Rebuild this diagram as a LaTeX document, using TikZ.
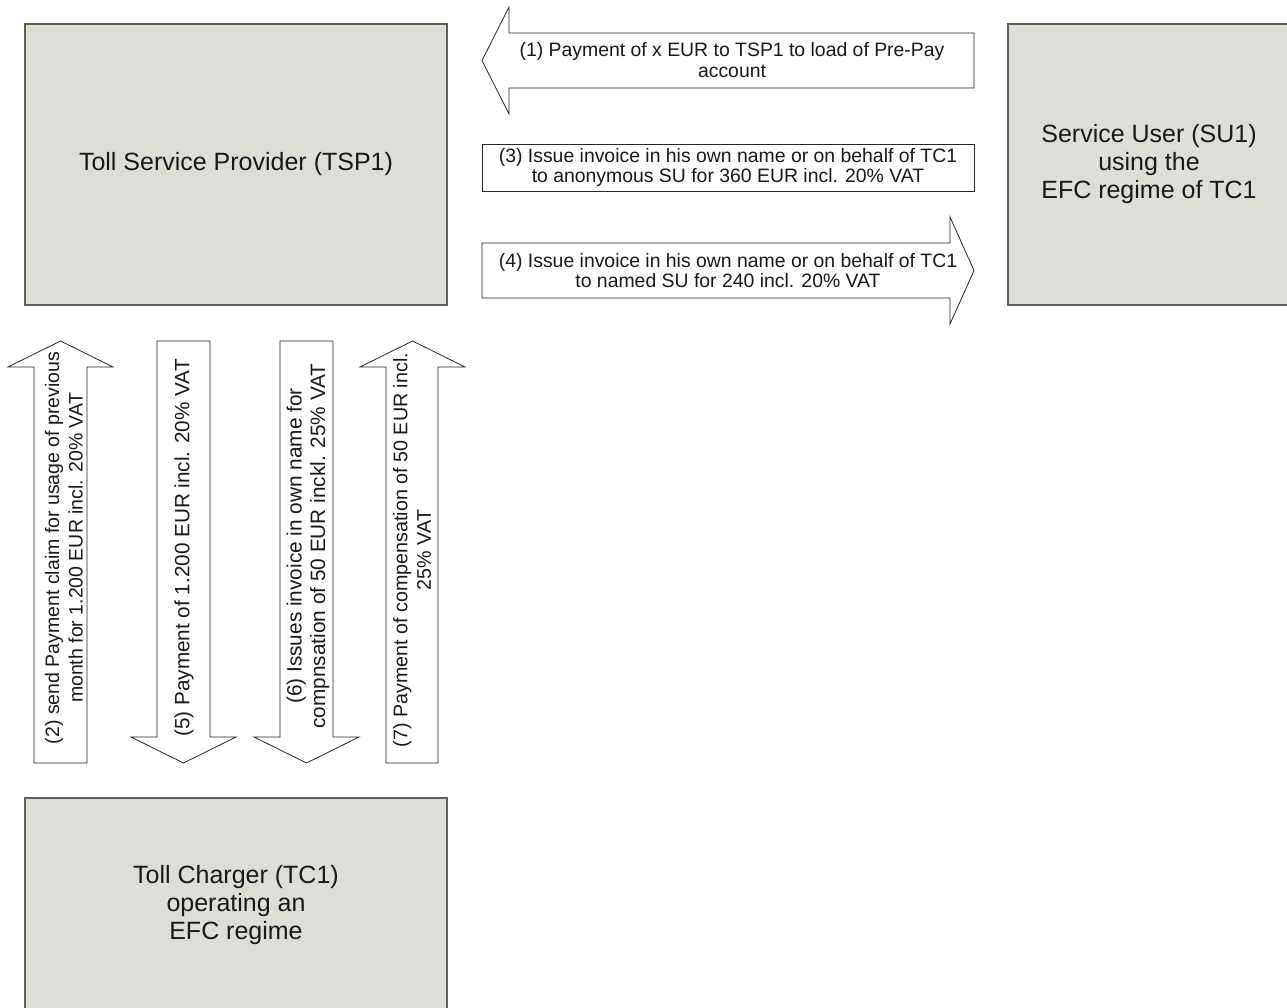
\documentclass[tikz,border=0pt]{standalone}
\usepackage{fontspec}
\setmainfont{Liberation Sans}
\definecolor{boxfill}{RGB}{222,222,214}
\definecolor{boxline}{RGB}{95,95,95}
\definecolor{txt}{RGB}{25,25,25}
\tikzset{
  entity/.style={draw=boxline, line width=1.2pt, fill=boxfill, inner sep=0pt,
    text=txt, align=center, font=\fontsize{25}{28}\selectfont},
  blockarrow/.style={draw=black!85, line width=0.8pt, fill=white, line join=miter},
  arrowlabel/.style={text=txt, align=center, inner sep=0pt, font=\fontsize{19.4}{20.5}\selectfont},
  vlabel/.style={arrowlabel, rotate=90, font=\fontsize{#1}{23.5}\selectfont},
  vlabel/.default=20,
}
\begin{document}
\begin{tikzpicture}[x=1pt, y=-1pt]
\useasboundingbox (0,0) rectangle (1287,1008);

% main boxes
\node[entity, minimum width=422pt, minimum height=281pt] (tsp) at (236,164.5) {Toll Service Provider (TSP1)};
\node[entity, minimum width=282pt, minimum height=281pt] (su) at (1149,164.5) {Service User (SU1)\\using the\\EFC regime of TC1};
\node[entity, minimum width=422pt, minimum height=214pt] (tc) at (236,905) {Toll Charger (TC1)\\operating an\\EFC regime};

% (1) left arrow
\draw[blockarrow] (974,33) -- (509,33) -- (509,7) -- (482,60.5) -- (509,114) -- (509,88) -- (974,88) -- cycle;
\node[arrowlabel] (l1) at (732,60) {(1) Payment of x EUR to TSP1 to load of Pre-Pay\\account};

% (3) plain box
\node[draw=black!85, line width=0.8pt, minimum width=492pt, minimum height=47pt, inner sep=0pt] (b3) at (728,167.5) {};
\node[arrowlabel] (l3) at (b3.center) {(3) Issue invoice in his own name or on behalf of TC1\\to anonymous SU for 360 EUR incl. 20\% VAT};

% (4) right arrow
\draw[blockarrow] (482,243) -- (950,243) -- (950,217) -- (974,270.5) -- (950,324) -- (950,298) -- (482,298) -- cycle;
\node[arrowlabel] (l4) at (728,270.5) {(4) Issue invoice in his own name or on behalf of TC1\\to named SU for 240 incl. 20\% VAT};

% (2) up arrow
\draw[blockarrow] (34,763) -- (34,367) -- (8,367) -- (60.5,341) -- (113,367) -- (87,367) -- (87,763) -- cycle;
\node[vlabel=19.5] (l2) at (64,548) {(2) send Payment claim for usage of previous\\month for 1.200 EUR incl. 20\% VAT};

% (5) down arrow
\draw[blockarrow] (157,341) -- (210,341) -- (210,737) -- (236,737) -- (183.5,763) -- (131,737) -- (157,737) -- cycle;
\node[vlabel=20.7] (l5) at (184,548) {(5) Payment of 1.200 EUR incl. 20\% VAT};

% (6) down arrow
\draw[blockarrow] (280,341) -- (333,341) -- (333,737) -- (359,737) -- (306.5,763) -- (254,737) -- (280,737) -- cycle;
\node[vlabel=20.8] (l6) at (308,546) {(6) Issues invoice in own name for\\compnsation of 50 EUR inckl. 25\% VAT};

% (7) up arrow
\draw[blockarrow] (386,763) -- (386,367) -- (360,367) -- (412.5,341) -- (465,367) -- (438,367) -- (438,763) -- cycle;
\node[vlabel=19.7] (l7) at (412,550) {(7) Payment of compensation of 50 EUR incl.\\25\% VAT};
\end{tikzpicture}
\end{document}
